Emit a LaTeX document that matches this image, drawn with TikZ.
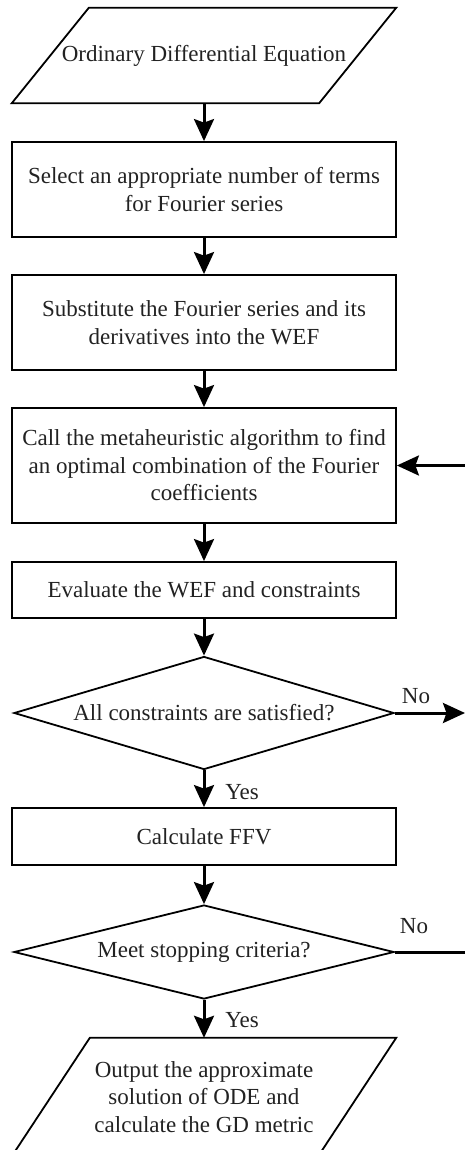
\documentclass[tikz,border=0pt]{standalone}
\usepackage{fontspec}
\setmainfont{Liberation Serif}
\usetikzlibrary{arrows.meta,shapes.geometric}
\definecolor{ink}{HTML}{222222}
\begin{document}
\begin{tikzpicture}[x=1pt,y=-1pt,
  txt/.style={font=\fontsize{23}{27.5}\selectfont, text=ink, align=center},
  procbox/.style={txt, draw, line width=1.8pt, minimum width=384pt, inner xsep=4pt, inner ysep=0pt},
  iobox/.style={txt, minimum width=384pt, inner sep=0pt},
  decision/.style={txt, diamond, draw, line width=1.8pt, minimum width=380pt, inner sep=0pt, aspect=3.4},
  shapeline/.style={line width=1.8pt},
  flow/.style={line width=3pt, -{Stealth[length=22pt,width=20pt,inset=3.5pt]}},
  link/.style={line width=3pt},
  tag/.style={font=\fontsize{23}{27.5}\selectfont, text=ink, inner sep=0pt}]
\useasboundingbox (0,0) rectangle (465,1150);
\begin{scope}
\clip (0,0) rectangle (465,1150);

% input / output parallelograms (text holders, outlines drawn below)
\node[iobox, minimum height=95pt] (inp) at (204,55.5) {Ordinary Differential Equation};
\draw[shapeline] ([xshift=77pt]inp.north west) -- (inp.north east)
  -- ([xshift=-77pt]inp.south east) -- (inp.south west) -- cycle;

% process steps
\node[procbox, minimum height=95pt] (b1) at (204,189.5)
  {Select an appropriate number of terms\\for Fourier series};
\node[procbox, minimum height=95pt] (b2) at (204,322.5)
  {Substitute the Fourier series and its\\derivatives into the WEF};
\node[procbox, minimum height=115pt] (b3) at (204,465.5)
  {Call the metaheuristic algorithm to find\\an optimal combination of the Fourier\\coefficients};
\node[procbox, minimum height=56pt] (b4) at (204,590) {Evaluate the WEF and constraints};

% decisions
\node[decision, minimum height=113pt] (d1) at (204,713) {All constraints are satisfied?};
\node[procbox, minimum height=57pt] (b5) at (204,836.5) {Calculate FFV};
\node[decision, minimum height=94pt] (d2) at (204,952) {Meet stopping criteria?};

\node[iobox, minimum height=118pt] (outp) at (204,1097)
  {Output the approximate\\solution of ODE and\\calculate the GD metric};
\draw[shapeline] ([xshift=78pt]outp.north west) -- (outp.north east)
  -- ([xshift=-78pt]outp.south east) -- (outp.south west) -- cycle;

% main flow
\draw[flow] (inp.south) -- (b1.north);
\draw[flow] (b1.south) -- (b2.north);
\draw[flow] (b2.south) -- (b3.north);
\draw[flow] (b3.south) -- (b4.north);
\draw[flow] (b4.south) -- (d1.north);
\draw[flow] (d1.south) -- (b5.north);
\draw[flow] (b5.south) -- (d2.north);
\draw[flow] (d2.south) -- (outp.north);

% branch labels
\node[tag] (yes1) at (242,792) {Yes};
\node[tag] (yes2) at (242,1020) {Yes};
\node[tag] (no1) at (416,696) {No};
\node[tag] (no2) at (414,926) {No};

% return branches at the right edge
\coordinate (e1) at (465,713);
\coordinate (e2) at (465,952);
\coordinate (e3) at (465,465.5);
\draw[flow] (d1.east) -- (e1);
\draw[link] (d2.east) -- (e2);
\draw[flow] (e3) -- (b3.east);
\end{scope}
\end{tikzpicture}
\end{document}
